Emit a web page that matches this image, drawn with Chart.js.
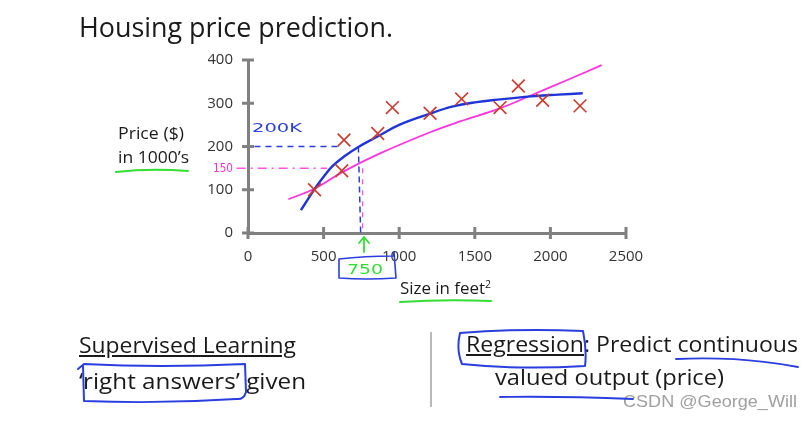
<!DOCTYPE html>
<html>
<head>
<meta charset="utf-8">
<script src="https://cdn.jsdelivr.net/npm/chart.js@4.4.1/dist/chart.umd.min.js"></script>
<style>
  html,body{margin:0;padding:0;background:#fff;}
  #wrap{position:relative;width:812px;height:422px;overflow:hidden;background:#fff;}
  #c{position:absolute;left:0;top:0;}
  .t{position:absolute;white-space:nowrap;line-height:1;transform-origin:0 0;font-family:"Open Sans",sans-serif;color:#1a1a1a;}
  .hw{position:absolute;white-space:nowrap;line-height:1;transform-origin:0 0;font-family:"DejaVu Sans",sans-serif;}
  svg{position:absolute;left:0;top:0;pointer-events:none;}
</style>
</head>
<body>
<div id="wrap">
  <canvas id="c" width="812" height="422"></canvas>
  <div class="t" data-w="314" style="left:79px;top:12px;font-size:28px;">Housing price prediction.</div>
  <div class="t" data-w="66" style="left:118px;top:124px;font-size:17px;">Price ($)</div>
  <div class="t" data-w="71" style="left:118px;top:148px;font-size:17px;">in 1000’s</div>
  <div class="t" data-w="91" style="left:400px;top:279px;font-size:16px;">Size in feet<span style="font-size:10px;vertical-align:6px;">2</span></div>
  <div class="t" data-w="217" style="left:79px;top:333px;font-size:22px;"><u>Supervised Learning</u></div>
  <div class="t" data-w="227" style="left:79px;top:369px;font-size:22px;">‘right answers’ given</div>
  <div class="t" data-w="332" style="left:466px;top:332px;font-size:22px;"><u>Regression</u>: Predict continuous</div>
  <div class="t" data-w="229" style="left:495px;top:365px;font-size:22px;">valued output (price)</div>
  <div class="t" data-w="174" style="left:623px;top:393px;font-size:17px;font-family:'Liberation Sans Narrow','Liberation Sans',sans-serif;color:#a0a0a0;">CSDN @George_Will</div>
  <div class="hw" data-w="50" style="left:252px;top:121px;font-size:13px;color:#2a3ee0;">200K</div>
  <div class="hw" data-w="20" style="left:213px;top:162px;font-size:12px;color:#ff33cc;">150</div>
  <div class="hw" data-w="36" style="left:347px;top:262px;font-size:14px;color:#33dd33;">750</div>
  <svg width="812" height="422" viewBox="0 0 812 422">
    <line x1="431" y1="332" x2="431" y2="407" stroke="#8a8a8a" stroke-width="1.2"/>
    <g fill="none" stroke-linecap="round" stroke-linejoin="round">
      <path d="M116 172 Q150 168 188 171" stroke="#33dd33" stroke-width="2"/>
      <path d="M400 302 Q445 299 491 301" stroke="#33dd33" stroke-width="2"/>
      <path d="M364 252 L364 238 M359 243 L364 237 L369 243" stroke="#33dd33" stroke-width="1.8"/>
      <path d="M339 259 Q365 256 393 256 L394 252 L396 278 Q366 280 339 278 Z" stroke="#2a3ee0" stroke-width="1.6"/>
      <path d="M78 369 L84 364 Q160 368 245 364 L246 392 Q244 400 236 399 Q160 404 84 401 L83 366" stroke="#2a3ee0" stroke-width="2"/>
      <path d="M460 333 Q520 328 583 331 Q587 350 585 366 Q520 370 462 364 Q456 350 460 333" stroke="#2a3ee0" stroke-width="2"/>
      <path d="M676 359 Q740 356 798 367" stroke="#2a3ee0" stroke-width="1.8"/>
      <path d="M500 397 Q560 396 633 399" stroke="#2a3ee0" stroke-width="1.8"/>
    </g>
  </svg>
</div>
<script>
// ---- data ----
const houseSize  = [440, 620, 635, 858, 955, 1204, 1413, 1667, 1788, 1949, 2196];
const housePrice = [100, 144, 215, 230, 290, 277, 310, 290, 340, 307, 294];

const straightX = [267, 443, 630, 873, 1204, 1402, 1665, 1870, 2100, 2339];
const straightY = [78, 103, 142, 184, 233, 258, 288, 318, 352, 388];

const curveX = [350, 400, 443, 500, 560, 640, 730, 851, 1000, 1204, 1350, 1500, 1667, 1870, 2050, 2214];
const curveY = [53, 80, 103, 130, 155, 178, 199, 222, 250, 276, 292, 302, 309, 316, 320, 323];

const readBlueX = [-30, 610];   const readBlueY = [200, 200];
const readBlueVX = [730, 745];  const readBlueVY = [200, 0];
const readPinkX = [-75, 522];   const readPinkY = [150, 150];
const readPinkVX = [758, 758];  const readPinkVY = [150, 0];

const xTicks = [0, 500, 1000, 1500, 2000, 2500];
const yTicks = [0, 100, 200, 300, 400];

const zip = (xs, ys) => xs.map((x, i) => ({x, y: ys[i]}));
const AXIS = '#808080';

const crossTicks = {
  id: 'crossTicks',
  afterDraw(chart) {
    const {ctx, scales: {x, y}} = chart;
    ctx.save();
    ctx.strokeStyle = AXIS; ctx.lineWidth = 3;
    const yb = y.getPixelForValue(0), xl = x.getPixelForValue(0);
    xTicks.forEach(v => { const p = x.getPixelForValue(v); ctx.beginPath(); ctx.moveTo(p, yb - 6); ctx.lineTo(p, yb + 6); ctx.stroke(); });
    yTicks.forEach(v => { const p = y.getPixelForValue(v); ctx.beginPath(); ctx.moveTo(xl - 6, p); ctx.lineTo(xl + 6, p); ctx.stroke(); });
    ctx.restore();
  }
};

const lineDs = (xs, ys, color, width, extra) => Object.assign({
  type: 'line', data: zip(xs, ys), borderColor: color, borderWidth: width,
  pointRadius: 0, fill: false, showLine: true, tension: 0.4
}, extra || {});

new Chart(document.getElementById('c'), {
  type: 'scatter',
  data: {
    datasets: [
      {data: zip(houseSize, housePrice), pointStyle: 'crossRot', pointRadius: 9, borderColor: '#cc3a2e', borderWidth: 1.6, backgroundColor: '#cc3a2e'},
      lineDs(curveX, curveY, '#1f35d8', 2.4),
      lineDs(straightX, straightY, '#ff33dd', 1.8),
      lineDs(readBlueX, readBlueY, '#2a3ee0', 1.5, {borderDash: [6, 5], clip: false, tension: 0}),
      lineDs(readBlueVX, readBlueVY, '#2a3ee0', 1.5, {borderDash: [6, 4], tension: 0}),
      lineDs(readPinkX, readPinkY, '#ff55dd', 1.5, {borderDash: [9, 5, 2, 5], clip: false, tension: 0}),
      lineDs(readPinkVX, readPinkVY, '#ff55dd', 1.3, {borderDash: [5, 6], tension: 0})
    ]
  },
  options: {
    responsive: false, animation: false,
    layout: {padding: {left: 208, right: 186, top: 60, bottom: 149}},
    plugins: {legend: {display: false}, tooltip: {enabled: false}},
    scales: {
      x: {
        type: 'linear', min: 0, max: 2500,
        afterBuildTicks: s => { s.ticks = xTicks.map(v => ({value: v})); },
        afterFit: s => { s.height = 40; },
        grid: {display: false, drawTicks: false},
        border: {display: true, color: AXIS, width: 3},
        ticks: {padding: 15, color: '#333', font: {family: 'Open Sans', size: 15}, callback: v => String(v)}
      },
      y: {
        type: 'linear', min: 0, max: 400,
        afterBuildTicks: s => { s.ticks = yTicks.map(v => ({value: v})); },
        afterFit: s => { s.width = 40; },
        grid: {display: false, drawTicks: false},
        border: {display: true, color: AXIS, width: 3},
        ticks: {padding: 15, color: '#333', font: {family: 'Open Sans', size: 15}, callback: v => String(v)}
      }
    }
  },
  plugins: [crossTicks]
});

function fitText() {
  document.querySelectorAll('[data-w]').forEach(el => {
    el.style.transform = 'none';
    const w = el.getBoundingClientRect().width;
    const target = parseFloat(el.dataset.w);
    if (w > 0) el.style.transform = 'scaleX(' + (target / w) + ')';
  });
}
fitText();
if (document.fonts && document.fonts.ready) document.fonts.ready.then(fitText);
</script>
</body>
</html>
